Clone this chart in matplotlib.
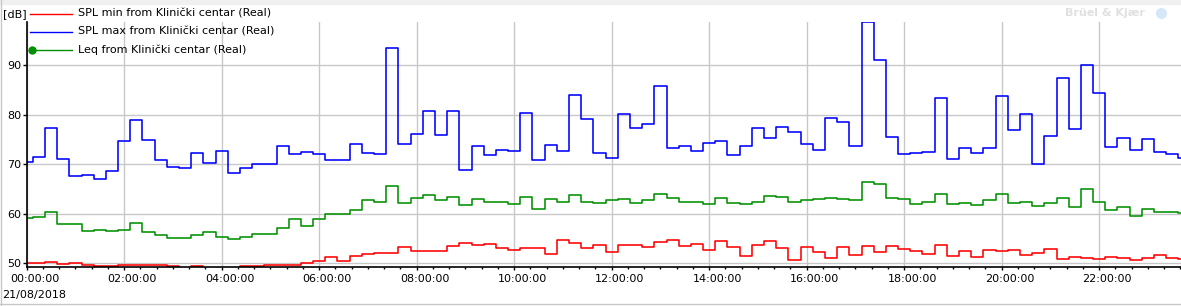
import numpy as np
import matplotlib.pyplot as plt
from matplotlib.lines import Line2D
from matplotlib.patches import Rectangle
from matplotlib.ticker import MultipleLocator, FuncFormatter
from matplotlib.transforms import ScaledTranslation

# ==============================
# Data (15 min intervals, 21/08/2018)
# ==============================
hours = np.arange(96) * 0.25

spl_max = [70.4, 71.4, 77.25, 71.0, 67.6, 67.8, 67.0, 68.6, 74.8, 78.9,
           75.0, 70.9, 69.4, 69.2, 72.2, 70.2, 72.7, 68.2, 69.2, 70.0,
           70.0, 73.7, 72.0, 72.4, 72.0, 70.9, 70.9, 74.2, 72.2, 72.0,
           93.4, 74.2, 76.2, 80.7, 76.0, 80.7, 68.8, 73.6, 71.8, 72.8,
           72.6, 80.3, 70.8, 73.8, 72.6, 84.1, 79.1, 72.2, 71.2, 80.1,
           77.4, 78.1, 85.9, 73.2, 73.6, 72.6, 74.4, 74.8, 71.8, 73.6,
           77.4, 75.4, 77.5, 76.5, 74.2, 72.8, 79.3, 78.5, 73.6, 98.7,
           91.0, 75.5, 72.0, 72.2, 72.4, 83.3, 71.0, 73.2, 72.2, 73.2,
           83.9, 76.9, 80.1, 70.0, 75.7, 87.4, 77.1, 90.0, 84.5, 73.4,
           75.3, 72.8, 75.1, 72.4, 72.0, 71.2]

leq = [59.2, 59.4, 60.4, 58.0, 58.0, 56.5, 56.7, 56.5, 56.7, 58.2,
       56.3, 55.7, 55.1, 55.1, 55.7, 56.3, 55.3, 54.9, 55.3, 55.9,
       55.9, 57.1, 59.0, 57.6, 59.0, 60.0, 60.0, 60.8, 62.7, 62.4,
       65.7, 62.2, 63.1, 63.7, 62.7, 63.3, 61.8, 62.9, 62.4, 62.4,
       62.0, 63.3, 61.0, 62.9, 62.4, 63.7, 62.4, 62.2, 62.7, 62.9,
       62.2, 62.7, 63.9, 63.1, 62.4, 62.4, 62.0, 63.1, 62.2, 62.0,
       62.4, 63.5, 63.3, 62.4, 62.7, 62.9, 63.1, 62.9, 62.7, 66.5,
       66.1, 63.1, 62.9, 62.0, 62.4, 64.1, 62.0, 62.2, 61.8, 62.7,
       63.9, 62.2, 62.4, 61.6, 62.2, 63.1, 61.4, 65.1, 62.4, 60.8,
       61.4, 59.6, 61.0, 60.4, 60.4, 60.2]

spl_min = [50.0, 50.0, 50.3, 49.8, 50.0, 49.6, 49.4, 49.4, 49.6, 49.6,
           49.6, 49.6, 49.4, 49.0, 49.4, 49.0, 49.0, 49.0, 49.4, 49.4,
           49.6, 49.6, 49.6, 50.0, 50.4, 51.2, 50.4, 51.4, 51.8, 52.0,
           52.1, 53.3, 52.4, 52.4, 52.4, 53.5, 54.1, 53.7, 53.9, 53.1,
           52.7, 53.1, 53.1, 51.8, 54.7, 54.1, 53.1, 53.7, 52.2, 53.7,
           53.7, 53.3, 54.3, 54.7, 53.5, 53.9, 52.7, 54.5, 53.3, 51.4,
           53.7, 54.5, 53.1, 50.6, 53.3, 52.2, 51.0, 53.3, 51.6, 53.5,
           52.2, 53.5, 52.9, 52.4, 51.8, 53.7, 51.4, 52.4, 51.2, 52.7,
           52.4, 52.7, 51.6, 52.0, 52.9, 50.8, 51.2, 51.0, 50.8, 51.2,
           51.0, 50.6, 51.0, 51.6, 51.0, 50.8]

labels = ["SPL min from Klinički centar (Real)",
          "SPL max from Klinički centar (Real)",
          "Leq from Klinički centar (Real)"]
colors = ["#ff0000", "#0000ff", "#009000"]

# ==============================
# Figure
# ==============================
W, H = 1181, 306
plt.rcParams['font.family'] = ['DejaVu Sans']
fig = plt.figure(figsize=(W / 100, H / 100), dpi=100)
ax = fig.add_axes([26.7 / W, 1 - 267.3 / H, 1 - 26.7 / W, (267.3 - 22) / H])

ax.plot(hours, spl_min, drawstyle='steps-mid', color=colors[0], lw=1.15)
ax.plot(hours, spl_max, drawstyle='steps-mid', color=colors[1], lw=1.15)
ax.plot(hours, leq, drawstyle='steps-mid', color=colors[2], lw=1.15)

ax.set_xlim(0, (W - 26.7) / 48.75)
ax.set_ylim(49.19, 98.75)

ax.xaxis.set_major_locator(MultipleLocator(2))
ax.xaxis.set_minor_locator(MultipleLocator(1 / 3))
ax.xaxis.set_major_formatter(FuncFormatter(lambda v, p: "%02d:00:00" % round(v)))
ax.yaxis.set_major_locator(MultipleLocator(10))

ax.grid(True, color='#c8c8c8', lw=1.0)
ax.set_axisbelow(True)
for s in ['top', 'right']:
    ax.spines[s].set_visible(False)
for s in ['left', 'bottom']:
    ax.spines[s].set_linewidth(1.2)
ax.tick_params(axis='x', which='major', length=2.5, width=1, labelsize=8, pad=2.5)
ax.tick_params(axis='x', which='minor', length=1.6, width=1)
ax.tick_params(axis='y', length=3, width=1, labelsize=8, pad=1)

# time labels sit a little right of their tick
shift = ScaledTranslation(8 / 100, 0, fig.dpi_scale_trans)
for t in ax.xaxis.get_major_ticks():
    t.label1.set_transform(t.label1.get_transform() + shift)

# ==============================
# Legend / labels
# ==============================
fig.text(3 / W, 1 - 14 / H, "[dB]", fontsize=8, va='center', ha='left')
for i, (lab, c) in enumerate(zip(labels, colors)):
    yy = 1 - (14 + 18 * i) / H
    fig.add_artist(Line2D([30 / W, 72 / W], [yy, yy], color=c, lw=1.0,
                          transform=fig.transFigure))
    fig.text(78 / W, yy, lab, fontsize=8, va='center', ha='left')
fig.add_artist(Line2D([31.5 / W], [1 - 50 / H], color=colors[2], marker='o',
                      ms=5, transform=fig.transFigure))

fig.text(2 / W, 1 - 295 / H, "21/08/2018", fontsize=8, va='center', ha='left')
fig.text(1145 / W, 1 - 13 / H, "Brüel & Kjær", fontsize=8, fontweight='bold',
         color='#e0e0e0', va='center', ha='right')
fig.add_artist(Line2D([1161 / W], [1 - 13 / H], color='#d6e8f8', marker='o',
                      ms=7, transform=fig.transFigure))

# window frame bits
fig.add_artist(Rectangle((0, 1 - 4 / H), 1, 4 / H, color='#f0f0f0',
                         transform=fig.transFigure))
fig.add_artist(Line2D([0, 1], [1 - 304 / H] * 2, color='#c8c8c8', lw=1,
                      transform=fig.transFigure))
fig.add_artist(Line2D([0.5 / W] * 2, [0, 1], color='#c8c8c8', lw=1,
                      transform=fig.transFigure))

fig.savefig("out.png", dpi=100)
